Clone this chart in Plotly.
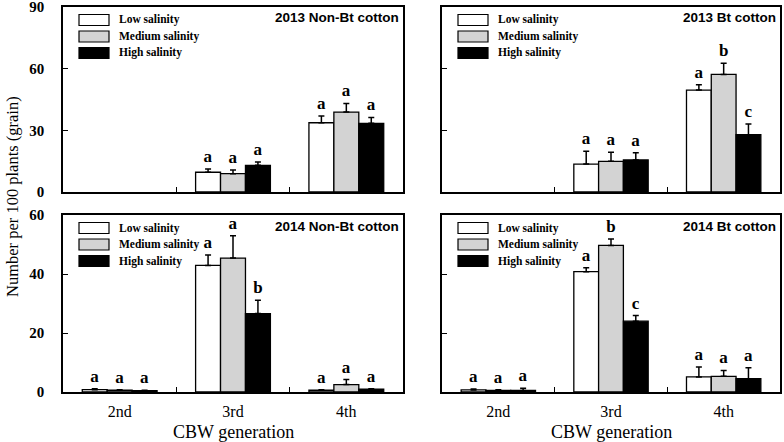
import plotly.graph_objects as go

# ---------------- data ----------------
generations = ["2nd", "3rd", "4th"]
salinity_levels = ["Low salinity", "Medium salinity", "High salinity"]
panel_titles = ["2013 Non-Bt cotton", "2013 Bt cotton", "2014 Non-Bt cotton", "2014 Bt cotton"]

# 2013 Non-Bt cotton (means, SE, letters)
nonbt13_low = [None, 9.6, 33.7]
nonbt13_med = [None, 8.9, 38.9]
nonbt13_high = [None, 13.0, 33.4]
nonbt13_low_se = [None, 1.6, 3.3]
nonbt13_med_se = [None, 1.8, 4.2]
nonbt13_high_se = [None, 1.6, 2.9]
nonbt13_low_let = ["", "a", "a"]
nonbt13_med_let = ["", "a", "a"]
nonbt13_high_let = ["", "a", "a"]

# 2013 Bt cotton
bt13_low = [None, 13.6, 49.6]
bt13_med = [None, 14.9, 57.2]
bt13_high = [None, 15.6, 27.9]
bt13_low_se = [None, 6.2, 2.6]
bt13_med_se = [None, 4.4, 5.4]
bt13_high_se = [None, 3.5, 5.2]
bt13_low_let = ["", "a", "a"]
bt13_med_let = ["", "a", "b"]
bt13_high_let = ["", "a", "c"]

# 2014 Non-Bt cotton
nonbt14_low = [0.8, 42.9, 0.6]
nonbt14_med = [0.6, 45.4, 2.5]
nonbt14_high = [0.45, 26.6, 1.0]
nonbt14_low_se = [0.3, 3.5, 0.2]
nonbt14_med_se = [0.2, 7.6, 1.7]
nonbt14_high_se = [0.15, 4.5, 0.1]
nonbt14_low_let = ["a", "a", "a"]
nonbt14_med_let = ["a", "a", "a"]
nonbt14_high_let = ["a", "b", "a"]

# 2014 Bt cotton
bt14_low = [0.7, 40.8, 5.1]
bt14_med = [0.5, 49.7, 5.3]
bt14_high = [0.5, 24.0, 4.5]
bt14_low_se = [0.3, 1.3, 3.4]
bt14_med_se = [0.3, 2.2, 2.0]
bt14_high_se = [0.8, 1.9, 3.7]
bt14_low_let = ["a", "a", "a"]
bt14_med_let = ["a", "b", "a"]
bt14_high_let = ["a", "c", "a"]

y_ticks_2013 = [0, 30, 60, 90]
y_ticks_2014 = [0, 20, 40, 60]

# ---------------- styling ----------------
FILL = ["#ffffff", "#d3d3d3", "#000000"]
SERIF = "Liberation Serif, Times New Roman, serif"
SANS = "Liberation Sans, Arial, sans-serif"
W, H = 784, 442

panels = [
    dict(vals=[nonbt13_low, nonbt13_med, nonbt13_high],
         errs=[nonbt13_low_se, nonbt13_med_se, nonbt13_high_se],
         lets=[nonbt13_low_let, nonbt13_med_let, nonbt13_high_let],
         ticks=y_ticks_2013, px=(63, 403), py=(7, 192), left=True, bottom=False),
    dict(vals=[bt13_low, bt13_med, bt13_high],
         errs=[bt13_low_se, bt13_med_se, bt13_high_se],
         lets=[bt13_low_let, bt13_med_let, bt13_high_let],
         ticks=y_ticks_2013, px=(442, 780), py=(7, 192), left=False, bottom=False),
    dict(vals=[nonbt14_low, nonbt14_med, nonbt14_high],
         errs=[nonbt14_low_se, nonbt14_med_se, nonbt14_high_se],
         lets=[nonbt14_low_let, nonbt14_med_let, nonbt14_high_let],
         ticks=y_ticks_2014, px=(63, 403), py=(215, 392), left=True, bottom=True),
    dict(vals=[bt14_low, bt14_med, bt14_high],
         errs=[bt14_low_se, bt14_med_se, bt14_high_se],
         lets=[bt14_low_let, bt14_med_let, bt14_high_let],
         ticks=y_ticks_2014, px=(442, 780), py=(215, 392), left=False, bottom=True),
]

fig = go.Figure()
layout = dict(
    template="none",
    width=W, height=H, margin=dict(l=0, r=0, t=0, b=0, pad=0, autoexpand=False),
    paper_bgcolor="white", plot_bgcolor="white",
    barmode="group", bargap=0.34, bargroupgap=0.0, showlegend=False,
)
shapes, annotations = [], []

for i, p in enumerate(panels):
    n = i + 1
    xa = "x" if n == 1 else f"x{n}"
    ya = "y" if n == 1 else f"y{n}"
    xkey = "xaxis" if n == 1 else f"xaxis{n}"
    ykey = "yaxis" if n == 1 else f"yaxis{n}"
    x0, x1 = p["px"]
    y0, y1 = p["py"]
    pw, ph = x1 - x0, y1 - y0

    for k in range(3):
        vals, errs, lets = p["vals"][k], p["errs"][k], p["lets"][k]
        tops = [None if v is None else v + e for v, e in zip(vals, errs)]
        # invisible carrier for significance letters above the error bars
        fig.add_trace(go.Bar(
            x=generations, y=tops, xaxis=xa, yaxis=ya, offsetgroup=str(k),
            marker=dict(color="rgba(0,0,0,0)", line=dict(width=0)),
            text=lets, textposition="outside", constraintext="none", cliponaxis=False,
            textfont=dict(family=SERIF, size=17, color="black", weight="bold"),
            hoverinfo="skip", name=salinity_levels[k],
        ))
        fig.add_trace(go.Bar(
            x=generations, y=vals, xaxis=xa, yaxis=ya, offsetgroup=str(k),
            marker=dict(color=FILL[k], line=dict(color="black", width=1.3)),
            error_y=dict(type="data", array=[0 if e is None else e for e in errs],
                         arrayminus=[0, 0, 0], symmetric=False,
                         color="black", thickness=1.5, width=3),
            name=salinity_levels[k],
        ))

    top_val = p["ticks"][-1]
    layout[xkey] = dict(
        domain=[x0 / W, x1 / W], anchor=ya, type="category", automargin=False,
        showline=True, mirror=True, linecolor="black", linewidth=1.5,
        ticks="inside", tickson="boundaries", ticklen=5, tickcolor="black", tickwidth=1.3,
        showgrid=False, zeroline=False, showticklabels=p["bottom"],
        tickfont=dict(family=SERIF, size=16, color="black"),
        ticklabelstandoff=4, ticklabeloverflow="allow",
    )
    layout[ykey] = dict(
        domain=[1 - y1 / H, 1 - y0 / H], anchor=xa, range=[0, top_val], automargin=False,
        tickvals=p["ticks"], showline=True, mirror=True, linecolor="black", linewidth=1.5,
        ticks="inside", ticklen=5, tickcolor="black", tickwidth=1.3,
        showgrid=False, zeroline=False, showticklabels=p["left"],
        tickfont=dict(family=SERIF, size=15, color="black", weight="bold"),
        ticklabelstandoff=14, ticklabeloverflow="allow",
    )

    # in-panel legend
    for k in range(3):
        cy = 13 + 16.5 * k
        shapes.append(dict(
            type="rect", xref=f"{xa} domain", yref=f"{ya} domain",
            x0=16 / pw, x1=46 / pw, y0=1 - (cy + 5.5) / ph, y1=1 - (cy - 5.5) / ph,
            fillcolor=FILL[k], line=dict(color="black", width=1.2), layer="above",
        ))
        annotations.append(dict(
            xref=f"{xa} domain", yref=f"{ya} domain", x=54 / pw, y=1 - cy / ph,
            xanchor="left", yanchor="middle", showarrow=False, text=salinity_levels[k],
            font=dict(family=SERIF, size=11.5, color="black", weight="bold"),
        ))
    # panel title
    annotations.append(dict(
        xref=f"{xa} domain", yref=f"{ya} domain", x=1 - 2 / pw, y=1 - 11 / ph,
        xanchor="right", yanchor="middle", showarrow=False, text=panel_titles[i],
        font=dict(family=SANS, size=13.5, color="black", weight="bold"),
    ))
    if p["bottom"]:
        annotations.append(dict(
            xref=f"{xa} domain", yref="paper", x=0.5, y=1 - 431.5 / H,
            xanchor="center", yanchor="middle", showarrow=False, text="CBW generation",
            font=dict(family=SERIF, size=18, color="black"),
        ))

annotations.append(dict(
    xref="paper", yref="paper", x=12 / W, y=1 - 197 / H, xanchor="center", yanchor="middle",
    textangle=-90, showarrow=False, text="Number per 100 plants (grain)",
    font=dict(family=SERIF, size=16.5, color="black"),
))

layout["shapes"] = shapes
layout["annotations"] = annotations
fig.update_layout(**layout)
fig.write_html("out.html", config={"displayModeBar": False},
               post_script="document.body.style.margin='0';")
